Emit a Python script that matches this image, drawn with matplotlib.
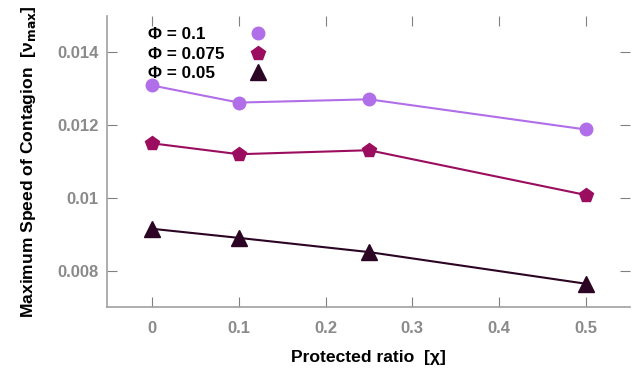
import matplotlib
matplotlib.use("Agg")
import matplotlib.pyplot as plt

plt.rcParams['font.family'] = ['Liberation Sans', 'DejaVu Sans']

x = [0, 0.1, 0.25, 0.5]
phi_01 = [0.01309, 0.01262, 0.01271, 0.01188]
phi_0075 = [0.01150, 0.01120, 0.01131, 0.01008]
phi_005 = [0.00915, 0.00890, 0.00851, 0.00764]
labels = ['Φ = 0.1', 'Φ = 0.075', 'Φ = 0.05']
colors = ['#b06ee8', '#9b0d5e', '#2b0523']
markers = ['o', 'p', '^']
msizes = [9, 10, 11]
xticks = [0, 0.1, 0.2, 0.3, 0.4, 0.5]
yticks = [0.008, 0.01, 0.012, 0.014]
yticklabels = ['0.008', '0.01', '0.012', '0.014']

fig = plt.figure(figsize=(6.4, 3.69), dpi=100)
ax = fig.add_axes([107/640, 1-307/369, (630-107)/640, (307-16)/369])

handles = []
for ys, lab, c, m, ms in zip([phi_01, phi_0075, phi_005], labels, colors, markers, msizes):
    ax.plot(x, ys, color=c, lw=1.5)
    h, = ax.plot(x, ys, linestyle='none', marker=m, color=c, markersize=ms, label=lab)
    handles.append(h)

ax.set_xlim(-0.052, 0.551)
ax.set_ylim(0.007, 0.015)
ax.set_xticks(xticks)
ax.set_xticklabels([f'{t:g}' for t in xticks])
ax.set_yticks(yticks)
ax.set_yticklabels(yticklabels)

for s in ['top', 'right']:
    ax.spines[s].set_visible(False)
for s in ['left', 'bottom']:
    ax.spines[s].set_color('#a0a0a0')
    ax.spines[s].set_linewidth(1.2)

ax.tick_params(direction='in', length=7, color='#808080', width=0.8,
               top=True, right=True, labelcolor='#8a8a8a', labelsize=12)
ax.tick_params(axis='x', pad=10)
ax.tick_params(axis='y', pad=6)
for lbl in ax.get_xticklabels() + ax.get_yticklabels():
    lbl.set_fontweight('bold')

ax.set_xlabel('Protected ratio  [χ]', fontsize=12.6, fontweight='bold', labelpad=10)
ax.set_ylabel(r'Maximum Speed of Contagion  [ν$_{\mathbf{max}}$]', fontsize=12.6,
              fontweight='bold', labelpad=14)

# text part of the key (left aligned)
leg1 = ax.legend(handles, labels, loc='upper left', bbox_to_anchor=(0.0776, 0.961),
                 frameon=False, fontsize=12.3, handlelength=0, handletextpad=0,
                 labelspacing=0.25, borderaxespad=0.0, borderpad=0.0)
for t in leg1.get_texts():
    t.set_fontweight('bold')
for h in leg1.legend_handles:
    h.set_visible(False)
ax.add_artist(leg1)

# marker part of the key
leg2 = ax.legend(handles, ['', '', ''], loc='upper left', bbox_to_anchor=(0.272, 0.961),
                 frameon=False, fontsize=12.3, handlelength=1.0, handletextpad=0,
                 labelspacing=0.25, borderaxespad=0.0, borderpad=0.0)

fig.savefig('out.png', dpi=100)
